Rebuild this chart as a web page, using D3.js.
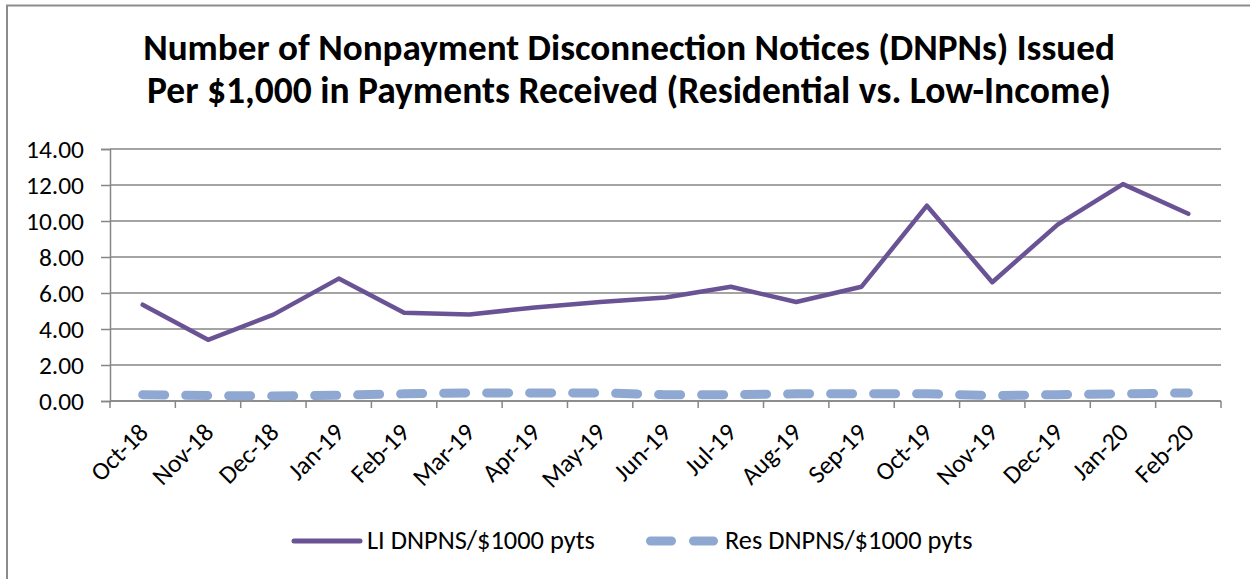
<!DOCTYPE html>
<html><head><meta charset="utf-8">
<script src="https://cdn.jsdelivr.net/npm/d3@7"></script>
<style>body{margin:0;background:#fff}svg{display:block}text{font-family:Carlito,Lato,"Open Sans",sans-serif}</style>
</head><body><svg id="c" width="1250" height="579"></svg>
<script>
const categories = ["Oct-18","Nov-18","Dec-18","Jan-19","Feb-19","Mar-19","Apr-19","May-19","Jun-19","Jul-19","Aug-19","Sep-19","Oct-19","Nov-19","Dec-19","Jan-20","Feb-20"];
const liValues  = [5.35,3.4,4.8,6.8,4.9,4.8,5.2,5.5,5.75,6.35,5.5,6.35,10.85,6.6,9.8,12.05,10.4];
const resValues = [0.35,0.3,0.28,0.32,0.4,0.45,0.45,0.45,0.35,0.35,0.4,0.4,0.4,0.3,0.35,0.4,0.45];
const yTicks = [0,2,4,6,8,10,12,14];
const seriesNames = ["LI DNPNS/$1000 pyts","Res DNPNS/$1000 pyts"];
const titleLines = ["Number of Nonpayment Disconnection Notices (DNPNs) Issued","Per $1,000 in Payments Received (Residential vs. Low-Income)"];

const svg = d3.select("#c");
const L=110,R=1221,T=149,B=401;
const liColor="#6a5394", resColor="#8ea8d1", gridColor="#868686";

function fit(sel, target, base){
  sel.attr("font-size",base);
  const w=sel.node().getComputedTextLength();
  const s=base*target/w; sel.attr("font-size",s); return s;
}

// border
svg.append("path").attr("d","M7,579 V5.5 H1250").attr("fill","none").attr("stroke","#8c8c8c").attr("stroke-width",2);

// title
const tW=[972,964];
titleLines.forEach((t,i)=>{
  const tx=svg.append("text").attr("x",629).attr("y",[60,103][i]).attr("text-anchor","middle")
    .attr("font-weight","bold").attr("fill","#000").text(t);
  fit(tx,tW[i],34);
});

const x=d3.scaleBand().domain(categories).range([L,R]);
const y=d3.scaleLinear().domain([0,14]).range([B,T]);

// axis font size: fit "14.00" to the reference width
const probe=svg.append("text").text("14.00");
const axisFs=fit(probe,58,22); probe.remove();

// grid
svg.append("g").selectAll("line").data(yTicks).join("line")
  .attr("x1",L).attr("x2",R).attr("y1",d=>y(d)).attr("y2",d=>y(d))
  .attr("stroke",gridColor).attr("stroke-width",1.5);

// y axis
const ya=svg.append("g").attr("transform",`translate(${L},0)`)
  .call(d3.axisLeft(y).tickValues(yTicks).tickFormat(d3.format(".2f")).tickSize(9).tickPadding(17));
ya.select(".domain").attr("stroke",gridColor).attr("stroke-width",1.5);
ya.selectAll(".tick line").attr("stroke",gridColor).attr("stroke-width",1.5);
ya.selectAll("text").attr("font-size",axisFs).attr("fill","#000").attr("font-family","Carlito,Lato,sans-serif");

// x axis
const xa=svg.append("g").attr("transform",`translate(0,${B})`);
xa.append("line").attr("x1",L).attr("x2",R).attr("stroke",gridColor).attr("stroke-width",1.5);
const bounds=categories.map(c=>x(c)).concat([R]);
xa.selectAll("line.tk").data(bounds).join("line").attr("class","tk")
  .attr("x1",d=>d).attr("x2",d=>d).attr("y1",0).attr("y2",7).attr("stroke",gridColor).attr("stroke-width",1.5);
xa.selectAll("text").data(categories).join("text")
  .attr("transform",d=>`translate(${x(d)+x.bandwidth()/2+7},${33}) rotate(-45)`)
  .attr("text-anchor","end").attr("font-size",axisFs).attr("fill","#000").text(d=>d);

const cx=(d,i)=>x(categories[i])+x.bandwidth()/2;
// res line
svg.append("path").datum(resValues).attr("fill","none").attr("stroke",resColor).attr("stroke-width",9)
  .attr("stroke-linecap","round").attr("stroke-dasharray","22,21")
  .attr("d",d3.line().x(cx).y(d=>y(d)));
// li line
svg.append("path").datum(liValues).attr("fill","none").attr("stroke",liColor).attr("stroke-width",4.5)
  .attr("stroke-linecap","round").attr("stroke-linejoin","round")
  .attr("d",d3.line().x(cx).y(d=>y(d)));

// legend
const lg=svg.append("g");
lg.append("line").attr("x1",294).attr("x2",360).attr("y1",541).attr("y2",541).attr("stroke",liColor).attr("stroke-width",5).attr("stroke-linecap","round");
const t1=lg.append("text").attr("x",367).attr("y",549).attr("fill","#000").text(seriesNames[0]);
const lfs=fit(t1,228,22);
lg.append("line").attr("x1",650.5).attr("x2",713.5).attr("y1",541).attr("y2",541).attr("stroke",resColor).attr("stroke-width",9).attr("stroke-linecap","round").attr("stroke-dasharray","21,22");
lg.append("text").attr("x",725).attr("y",549).attr("font-size",lfs).attr("fill","#000").text(seriesNames[1]);
</script></body></html>
